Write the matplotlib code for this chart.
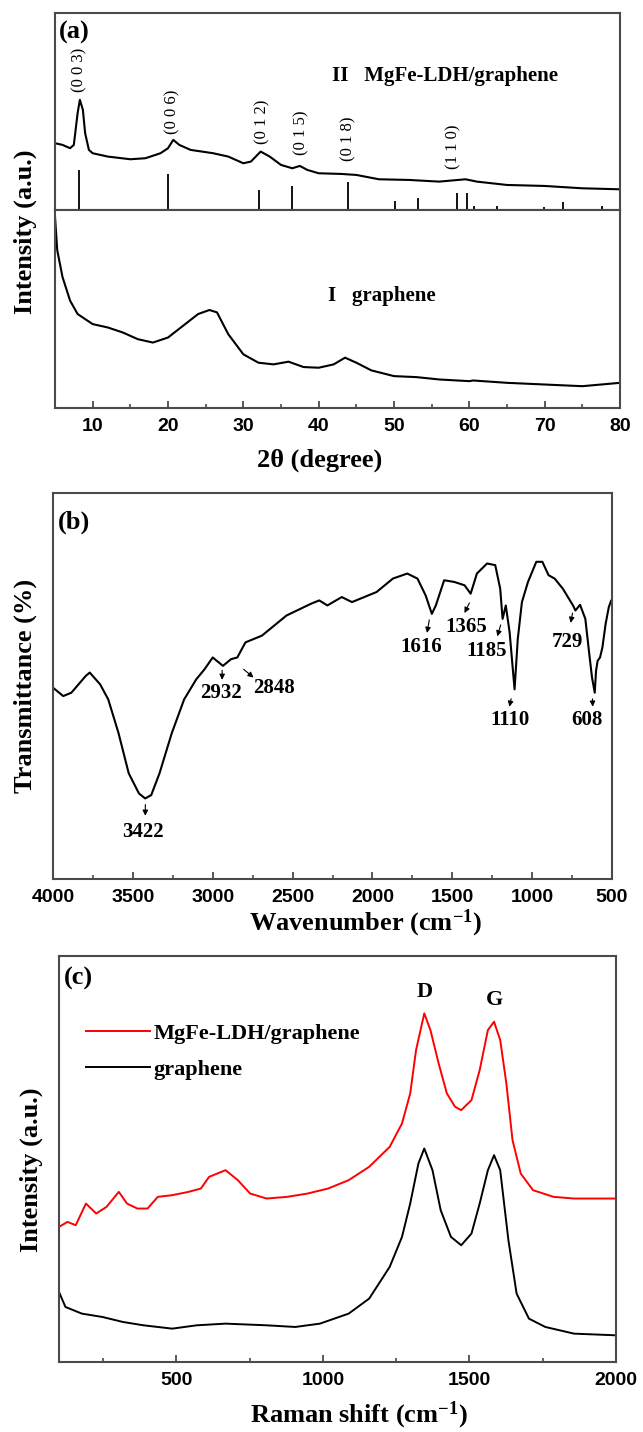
import matplotlib
matplotlib.use('Agg')
import matplotlib.pyplot as plt
from matplotlib.ticker import MultipleLocator

# ---- data ----
# (a) XRD, MgFe-LDH/graphene (upper trace)
xrd_ldh_x = [5, 6, 7, 7.5, 8, 8.3, 8.7, 9, 9.5, 10, 12, 15, 17, 19, 20, 20.7, 21.5,
             23, 26, 28, 30, 31, 32.3, 33.5, 35, 36.5, 37.5, 38.5, 40, 43, 45, 48,
             52, 56, 59.5, 61, 65, 70, 75, 80]
xrd_ldh_y = [200, 195, 185, 195, 290, 330, 300, 230, 180, 170, 160, 152, 155, 170, 185,
             210, 195, 180, 170, 160, 140, 145, 175, 160, 135, 125, 132, 120, 110, 108,
             105, 92, 90, 85, 92, 85, 75, 72, 65, 62]
# standard pattern sticks
stick_x = [8.2, 20.0, 32.1, 36.5, 43.9, 50.1, 53.2, 58.3, 59.7, 60.6, 63.7, 69.9, 72.4, 77.6]
stick_h = [120, 108, 60, 73, 85, 26, 37, 50, 50, 12, 12, 10, 25, 12]
hkl_labels = ['(0 0 3)', '(0 0 6)', '(0 1 2)', '(0 1 5)', '(0 1 8)', '(1 1 0)']
hkl_x = [8.3, 20.6, 32.5, 37.7, 44.0, 57.9]
hkl_y = [420, 295, 265, 230, 212, 190]

# (a) XRD, graphene (lower trace)
xrd_gr_x = [5, 5.3, 6, 7, 8, 10, 12, 14, 16, 18, 20, 22, 24, 25.5, 26.5, 28, 30, 32,
            34, 36, 38, 40, 42, 43.5, 45, 47, 50, 53, 56, 60, 60.5, 65, 70, 75, 80]
xrd_gr_y = [570, 470, 390, 320, 280, 250, 240, 225, 205, 195, 210, 245, 280, 292, 285,
            220, 160, 135, 130, 138, 122, 120, 130, 150, 135, 112, 95, 92, 85, 80, 82,
            75, 70, 65, 75]

# (b) FTIR
ftir_x = [4000, 3936, 3885, 3795, 3770, 3705, 3654, 3590, 3526, 3462, 3423, 3385, 3333,
          3256, 3179, 3103, 3051, 3000, 2936, 2885, 2846, 2795, 2692, 2538, 2385, 2333,
          2282, 2192, 2128, 1974, 1872, 1782, 1718, 1667, 1628, 1603, 1551, 1487, 1423,
          1385, 1346, 1282, 1231, 1200, 1185, 1165, 1141, 1110, 1090, 1064, 1026, 974,
          936, 897, 859, 808, 744, 729, 700, 667, 641, 625, 608, 600, 590, 575, 560,
          540, 520, 505, 500]
ftir_y = [570, 545, 555, 605, 615, 580, 535, 435, 315, 255, 240, 250, 315, 435, 535,
          595, 625, 660, 635, 655, 660, 705, 725, 785, 820, 830, 815, 840, 825, 855,
          895, 910, 895, 845, 790, 815, 890, 885, 875, 850, 910, 940, 935, 865, 775,
          815, 735, 565, 715, 825, 885, 945, 945, 905, 895, 865, 815, 800, 817, 775,
          665, 600, 555, 620, 650, 660, 690, 760, 810, 830, 830]
ftir_labels = ['3422', '2932', '2848', '1616', '1365', '1185', '1110', '729', '608']
ftir_text_x = [3436, 2949, 2615, 1692, 1410, 1282, 1141, 782, 654]
ftir_text_y = [140, 555, 570, 690, 750, 680, 475, 705, 475]
ftir_arrow_x0 = [3422, 2941, 2820, 1641, 1385, 1192, 1128, 744, 623]
ftir_arrow_y0 = [230, 630, 630, 780, 830, 765, 545, 800, 545]
ftir_arrow_x1 = [3422, 2941, 2731, 1661, 1431, 1223, 1146, 762, 620]
ftir_arrow_y1 = [180, 585, 595, 725, 785, 715, 505, 755, 505]

# (c) Raman
raman_ldh_x = [100, 129, 157, 192, 227, 262, 304, 332, 367, 402, 437, 486, 542, 584,
               612, 668, 710, 752, 808, 878, 948, 1018, 1088, 1158, 1228, 1270, 1298,
               1318, 1346, 1367, 1395, 1423, 1451, 1472, 1507, 1535, 1563, 1584, 1605,
               1626, 1647, 1675, 1717, 1787, 1857, 2000]
raman_ldh_y = [405, 420, 410, 475, 445, 465, 510, 475, 460, 460, 495, 500, 510, 520,
               555, 575, 545, 505, 490, 495, 505, 520, 545, 585, 645, 715, 805, 935,
               1045, 995, 895, 805, 765, 755, 785, 875, 995, 1020, 965, 835, 665, 565,
               515, 495, 490, 490]
raman_gr_x = [100, 122, 178, 248, 318, 388, 486, 570, 668, 808, 906, 990, 1088, 1158,
              1228, 1270, 1298, 1326, 1346, 1374, 1402, 1437, 1472, 1507, 1535, 1563,
              1584, 1605, 1633, 1661, 1703, 1759, 1857, 2000]
raman_gr_y = [210, 165, 145, 135, 120, 110, 100, 110, 115, 110, 105, 115, 145, 190,
              285, 375, 475, 595, 640, 575, 455, 375, 350, 385, 475, 575, 620, 575,
              365, 205, 130, 105, 85, 80]

# ---- figure ----
plt.rcParams['font.family'] = ['Liberation Sans', 'DejaVu Sans']
plt.rcParams['font.weight'] = 'bold'
plt.rcParams['mathtext.fontset'] = 'custom'
plt.rcParams['mathtext.rm'] = 'Liberation Serif:bold'
plt.rcParams['mathtext.bf'] = 'Liberation Serif:bold'
plt.rcParams['mathtext.it'] = 'Liberation Serif:bold'
plt.rcParams['mathtext.default'] = 'rm'
serif = ['Liberation Serif', 'DejaVu Serif']
frame = '#4a4a4a'

W, H = 643, 1432
fig = plt.figure(figsize=(W / 100, H / 100), dpi=100)


def box(l, r, t, b):
    return [l / W, 1 - b / H, (r - l) / W, (b - t) / H]


def style(ax, major=None, minor=None):
    for s in ax.spines.values():
        s.set_color(frame)
        s.set_linewidth(1.5)
    ax.set_yticks([])
    if major is None:
        ax.set_xticks([])
        return
    ax.xaxis.set_major_locator(MultipleLocator(major))
    ax.xaxis.set_minor_locator(MultipleLocator(minor))
    ax.tick_params(axis='x', which='major', direction='in', length=5, width=1.3,
                   color=frame, labelsize=14, pad=7)
    ax.tick_params(axis='x', which='minor', direction='in', length=3, width=1.2,
                   color=frame)


# (a) upper part
ax1 = fig.add_axes(box(55, 620, 13, 210))
ax1.plot(xrd_ldh_x, xrd_ldh_y, color='k', lw=1.5)
ax1.vlines(stick_x, 0, stick_h, color='k', lw=1.3)
for lab, x, y in zip(hkl_labels, hkl_x, hkl_y):
    ax1.text(x, y, lab, rotation=90, ha='center', va='center', fontsize=12,
             family=serif, fontweight='normal')
ax1.text(41.8, 400, 'II   MgFe-LDH/graphene', ha='left', va='center', fontsize=15,
         family=serif)
ax1.text(0.006, 0.9, '(a)', transform=ax1.transAxes, ha='left', va='center',
         fontsize=19, family=serif)
ax1.set_xlim(5, 80)
ax1.set_ylim(0, 590)
style(ax1)

# (a) lower part
ax2 = fig.add_axes(box(55, 620, 210, 408))
ax2.plot(xrd_gr_x, xrd_gr_y, color='k', lw=1.5)
ax2.text(41.3, 335, 'I   graphene', ha='left', va='center', fontsize=15, family=serif)
ax2.set_xlim(5, 80)
ax2.set_ylim(0, 590)
style(ax2, 10, 5)
fig.text(320 / W, 1 - 460 / H, '2θ (degree)', ha='center', va='center', fontsize=19,
         family=serif)
fig.text(25 / W, 1 - 232 / H, 'Intensity (a.u.)', rotation=90, ha='center',
         va='center', fontsize=19, family=serif)

# (b) FTIR
ax3 = fig.add_axes(box(53, 612, 493, 879))
ax3.plot(ftir_x, ftir_y, color='k', lw=1.5)
for i, lab in enumerate(ftir_labels):
    ax3.annotate('', xy=(ftir_arrow_x1[i], ftir_arrow_y1[i]),
                 xytext=(ftir_arrow_x0[i], ftir_arrow_y0[i]),
                 arrowprops=dict(arrowstyle='-|>', color='k', lw=0.8,
                                 mutation_scale=8))
    ax3.text(ftir_text_x[i], ftir_text_y[i], lab, ha='center', va='center',
             fontsize=15, family=serif)
ax3.text(0.009, 0.925, '(b)', transform=ax3.transAxes, ha='left', va='center',
         fontsize=19, family=serif)
ax3.set_xlim(4000, 500)
ax3.set_ylim(0, 1150)
style(ax3, 500, 250)
fig.text(366 / W, 1 - 923 / H, 'Wavenumber (cm$^{-1}$)', ha='center',
         va='center', fontsize=19, family=serif)
fig.text(25 / W, 1 - 686 / H, 'Transmittance (%)', rotation=90, ha='center',
         va='center', fontsize=19, family=serif)

# (c) Raman
ax4 = fig.add_axes(box(59, 616, 956, 1362))
ax4.plot(raman_ldh_x, raman_ldh_y, color='#ff0000', lw=1.4, label='MgFe-LDH/graphene')
ax4.plot(raman_gr_x, raman_gr_y, color='k', lw=1.4, label='graphene')
ax4.legend(loc='upper left', bbox_to_anchor=(0.048, 0.835), frameon=False,
           handlelength=2.9, handletextpad=0.15, labelspacing=0.7,
           borderpad=0, borderaxespad=0,
           prop=dict(family=serif, size=16, weight='bold'))
ax4.text(1346, 1110, 'D', ha='center', va='center', fontsize=16, family=serif)
ax4.text(1584, 1085, 'G', ha='center', va='center', fontsize=16, family=serif)
ax4.text(0.009, 0.945, '(c)', transform=ax4.transAxes, ha='left', va='center',
         fontsize=19, family=serif)
ax4.set_xlim(100, 2000)
ax4.set_ylim(0, 1217)
style(ax4, 500, 250)
fig.text(359 / W, 1 - 1415 / H, 'Raman shift (cm$^{-1}$)', ha='center',
         va='center', fontsize=19, family=serif)
fig.text(31 / W, 1 - 1170 / H, 'Intensity (a.u.)', rotation=90, ha='center',
         va='center', fontsize=19, family=serif)

fig.savefig('out.png', dpi=100)
